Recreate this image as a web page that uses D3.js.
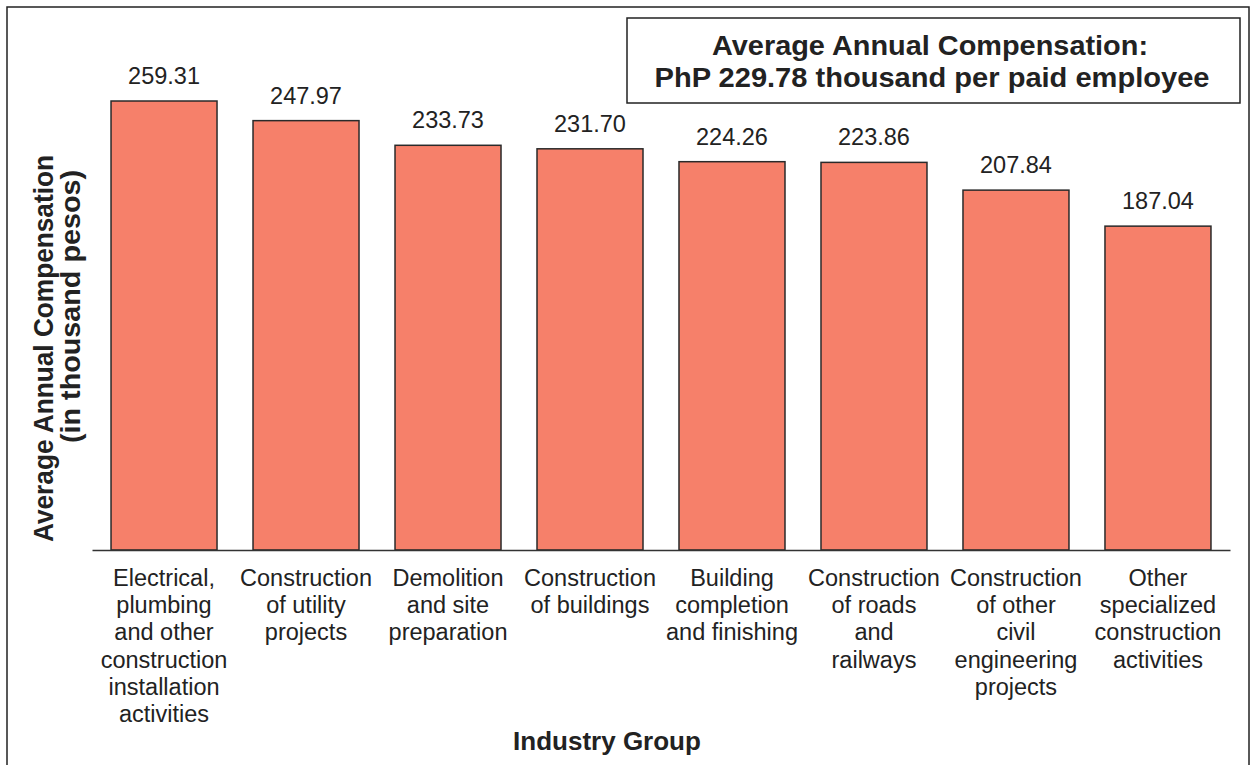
<!DOCTYPE html>
<html>
<head>
<meta charset="utf-8">
<script src="https://cdn.jsdelivr.net/npm/d3@7"></script>
<style>
  html, body { margin: 0; padding: 0; background: #fff; }
  svg { display: block; font-family: "Liberation Sans", Arial, sans-serif; }
</style>
</head>
<body>
<svg id="chart" width="1251" height="765"></svg>
<script>
const categories = [
  ["Electrical,", "plumbing", "and other", "construction", "installation", "activities"],
  ["Construction", "of utility", "projects"],
  ["Demolition", "and site", "preparation"],
  ["Construction", "of buildings"],
  ["Building", "completion", "and finishing"],
  ["Construction", "of roads", "and", "railways"],
  ["Construction", "of other", "civil", "engineering", "projects"],
  ["Other", "specialized", "construction", "activities"]
];
const values = [259.31, 247.97, 233.73, 231.70, 224.26, 223.86, 207.84, 187.04];
const valueLabels = ["259.31", "247.97", "233.73", "231.70", "224.26", "223.86", "207.84", "187.04"];
const titleLines = ["Average Annual Compensation:", "PhP 229.78 thousand per paid employee"];
const yTitleLines = ["Average Annual Compensation", "(in thousand pesos)"];
const xTitle = "Industry Group";

const svg = d3.select("#chart");
const textColor = "#222";
const barFill = "#F6806A";

// outer frame
svg.append("rect")
  .attr("x", 7).attr("y", 7).attr("width", 1242).attr("height", 800)
  .attr("fill", "none").attr("stroke", "#222").attr("stroke-width", 1.5);

const idx = values.map((d, i) => i);
const x = d3.scaleBand().domain(idx).range([92, 1230]).paddingInner(0.2535).paddingOuter(0.134);
const y = d3.scaleLinear().domain([0, 300]).range([550, 550 - 300 * 1.7315]);

// bars
svg.append("g").selectAll("rect").data(values).join("rect")
  .attr("x", (d, i) => x(i))
  .attr("y", d => y(d))
  .attr("width", x.bandwidth())
  .attr("height", d => y(0) - y(d))
  .attr("fill", barFill)
  .attr("stroke", "#2a2a2a")
  .attr("stroke-width", 1.5);

// value labels
svg.append("g").selectAll("text").data(values).join("text")
  .attr("x", (d, i) => x(i) + x.bandwidth() / 2)
  .attr("y", d => y(d) - 17)
  .attr("text-anchor", "middle")
  .attr("font-size", 23.5)
  .attr("fill", textColor)
  .text((d, i) => valueLabels[i]);

// x axis baseline
const xAxis = d3.axisBottom(x).tickSize(0).tickFormat("");
const gx = svg.append("g").attr("transform", `translate(0,${y(0)})`).call(xAxis);
gx.select(".domain").attr("stroke", "#333").attr("stroke-width", 1.5);

// category labels
const catG = svg.append("g");
categories.forEach((lines, i) => {
  const t = catG.append("text")
    .attr("text-anchor", "middle")
    .attr("font-size", 23.5)
    .attr("fill", textColor);
  lines.forEach((ln, j) => {
    t.append("tspan")
      .attr("x", x(i) + x.bandwidth() / 2)
      .attr("y", 586 + j * 27.2)
      .text(ln);
  });
});

// x title
svg.append("text")
  .attr("x", 607).attr("y", 750)
  .attr("text-anchor", "middle")
  .attr("font-size", 26).attr("font-weight", "bold")
  .attr("fill", textColor)
  .text(xTitle);

// y title
svg.append("text")
  .attr("transform", "translate(53,348.5) rotate(-90)")
  .attr("text-anchor", "middle")
  .attr("font-size", 27).attr("font-weight", "bold")
  .attr("fill", textColor)
  .attr("textLength", 387).attr("lengthAdjust", "spacingAndGlyphs")
  .text(yTitleLines[0]);
svg.append("text")
  .attr("transform", "translate(80,306.5) rotate(-90)")
  .attr("text-anchor", "middle")
  .attr("font-size", 27).attr("font-weight", "bold")
  .attr("fill", textColor)
  .attr("textLength", 273).attr("lengthAdjust", "spacingAndGlyphs")
  .text(yTitleLines[1]);

// title box
svg.append("rect")
  .attr("x", 627).attr("y", 18).attr("width", 613).attr("height", 85)
  .attr("fill", "#fff").attr("stroke", "#222").attr("stroke-width", 1.5);
svg.append("text")
  .attr("x", 930).attr("y", 55)
  .attr("text-anchor", "middle")
  .attr("font-size", 27).attr("font-weight", "bold")
  .attr("fill", textColor)
  .attr("textLength", 436).attr("lengthAdjust", "spacingAndGlyphs")
  .text(titleLines[0]);
svg.append("text")
  .attr("x", 932).attr("y", 87)
  .attr("text-anchor", "middle")
  .attr("font-size", 27).attr("font-weight", "bold")
  .attr("fill", textColor)
  .attr("textLength", 555).attr("lengthAdjust", "spacingAndGlyphs")
  .text(titleLines[1]);
</script>
</body>
</html>
